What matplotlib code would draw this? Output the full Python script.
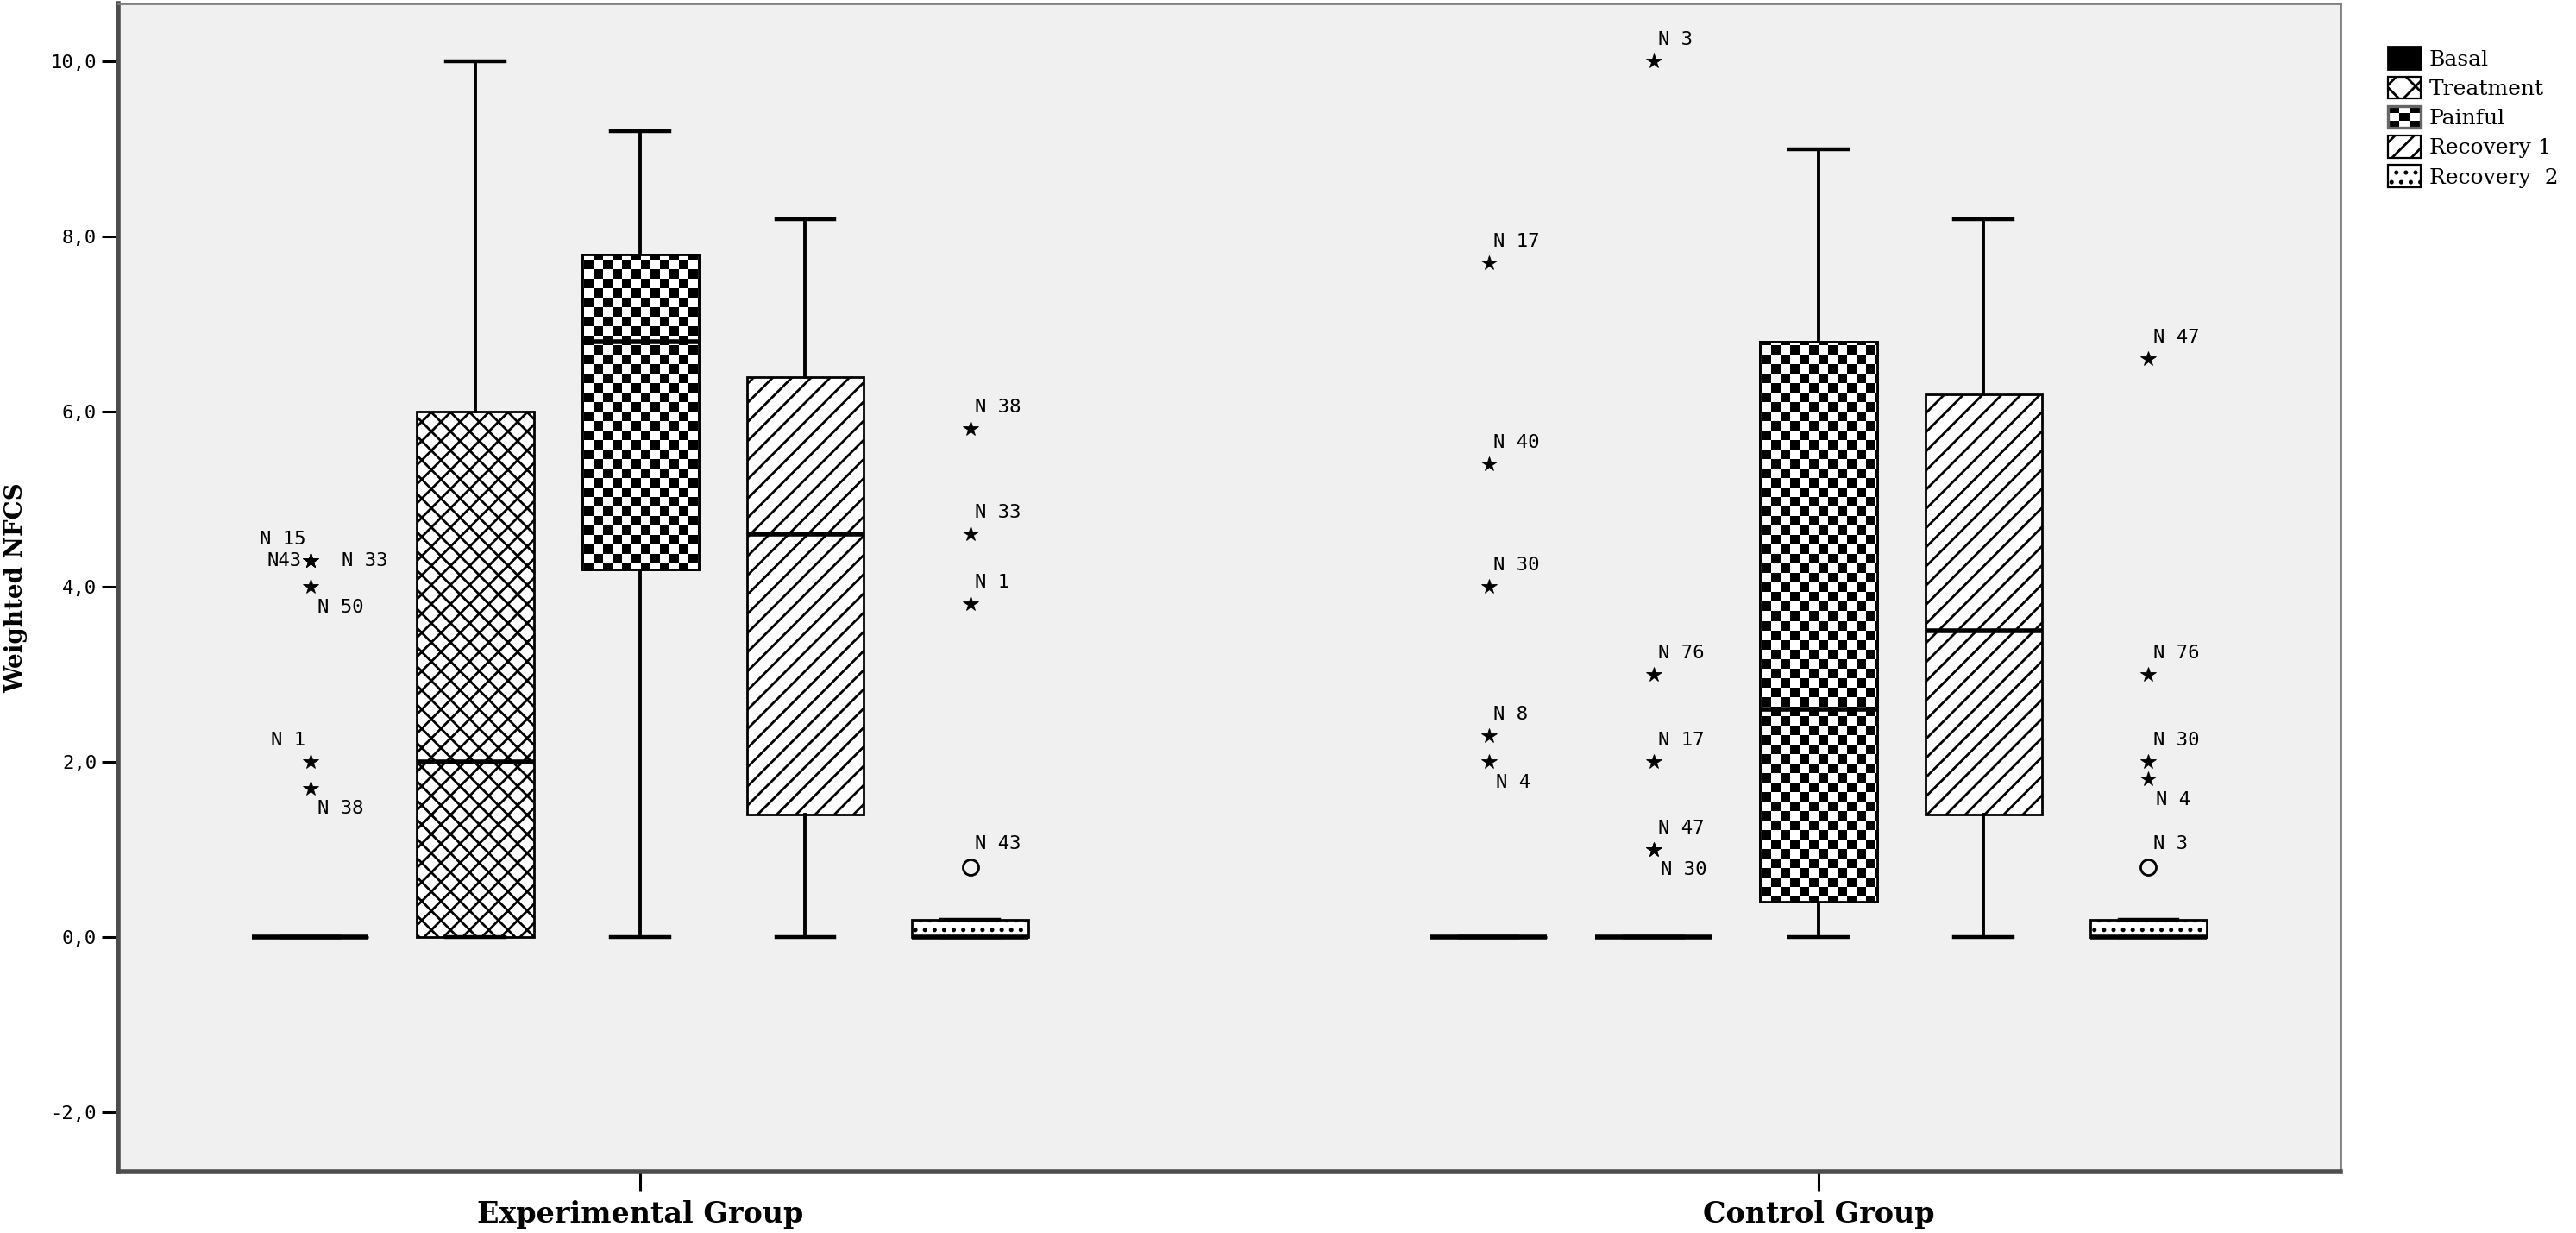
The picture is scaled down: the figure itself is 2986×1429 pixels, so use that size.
import numpy as np
import matplotlib
matplotlib.use("Agg")
import matplotlib.pyplot as plt
import matplotlib.ticker as tkr
from matplotlib.patches import Rectangle, PathPatch
from matplotlib.legend_handler import HandlerBase

groups = ["Experimental Group", "Control Group"]
conditions = ["Basal", "Treatment", "Painful", "Recovery 1", "Recovery  2"]

# box statistics per condition
exp_whislo = [0.0, 0.0, 0.0, 0.0, 0.0]
exp_q1 = [0.0, 0.0, 4.2, 1.4, 0.0]
exp_med = [0.0, 2.0, 6.8, 4.6, 0.0]
exp_q3 = [0.0, 6.0, 7.8, 6.4, 0.2]
exp_whishi = [0.0, 10.0, 9.2, 8.2, 0.2]

ctl_whislo = [0.0, 0.0, 0.0, 0.0, 0.0]
ctl_q1 = [0.0, 0.0, 0.4, 1.4, 0.0]
ctl_med = [0.0, 0.0, 2.6, 3.5, 0.0]
ctl_q3 = [0.0, 0.0, 6.8, 6.2, 0.2]
ctl_whishi = [0.0, 0.0, 9.0, 8.2, 0.2]

# extreme values (*)
exp_ext_cond = [0, 0, 0, 0, 0, 0, 4, 4, 4]
exp_ext_vals = [4.3, 4.3, 4.3, 4.0, 2.0, 1.7, 5.8, 4.6, 3.8]
exp_ext_ids = ["N 15", "N43", "N 33", "N 50", "N 1", "N 38", "N 38", "N 33", "N 1"]
exp_ext_side = ["ul", "l", "r", "dr", "ul", "dr", "ur", "ur", "ur"]

ctl_ext_cond = [0, 0, 0, 0, 0, 1, 1, 1, 1, 1, 4, 4, 4, 4]
ctl_ext_vals = [7.7, 5.4, 4.0, 2.3, 2.0, 10.0, 3.0, 2.0, 1.0, 1.0, 6.6, 3.0, 2.0, 1.8]
ctl_ext_ids = ["N 17", "N 40", "N 30", "N 8", "N 4", "N 3", "N 76", "N 17", "N 47", "N 30",
               "N 47", "N 76", "N 30", "N 4"]
ctl_ext_side = ["ur", "ur", "ur", "ur", "dr", "ur", "ur", "ur", "ur", "dr", "ur", "ur", "ur", "dr"]

# outliers (o)
exp_out_cond = [4]
exp_out_vals = [0.8]
exp_out_ids = ["N 43"]
ctl_out_cond = [4]
ctl_out_vals = [0.8]
ctl_out_ids = ["N 3"]

yticks = [-2, 0, 2, 4, 6, 8, 10]

offsets = {"ur": ((2, 9), "left"), "dr": ((3, -8.5), "left"), "ul": ((-2, 9), "right"),
           "l": ((-3.5, 0), "right"), "r": ((13, 0), "left")}
hatches = [None, "xxx", None, "///", "..."]
lab_font = "DejaVu Sans Mono"


class HandlerChecker(HandlerBase):
    def create_artists(self, legend, orig_handle, xdescent, ydescent, width, height, fontsize, trans):
        arts = []
        n = 3
        w, h = width / n, height / n
        for i in range(n):
            for j in range(n):
                c = "k" if (i + j) % 2 == 0 else "w"
                arts.append(Rectangle((-xdescent + i * w, -ydescent + j * h), w, h,
                                      facecolor=c, edgecolor="none", transform=trans))
        arts.append(Rectangle((-xdescent, -ydescent), width, height, facecolor="none",
                              edgecolor="#666666", lw=1.2, transform=trans))
        return arts


def main():
    plt.rcParams["hatch.linewidth"] = 1.0
    plt.rcParams["hatch.color"] = "black"

    fig = plt.figure(figsize=(14.93, 7.145), dpi=200)
    ax = fig.add_axes([0.0459, 0.0497, 0.8627, 0.9473])
    ax.set_facecolor("#f0f0f0")

    spacing = 0.14
    width = 0.099
    stats_all = [(exp_whislo, exp_q1, exp_med, exp_q3, exp_whishi),
                 (ctl_whislo, ctl_q1, ctl_med, ctl_q3, ctl_whishi)]
    stats, pos, conds = [], [], []
    for g, (wl, q1, md, q3, wh) in enumerate(stats_all):
        for i in range(len(conditions)):
            stats.append(dict(whislo=wl[i], q1=q1[i], med=md[i], q3=q3[i], whishi=wh[i], fliers=[]))
            pos.append(g + (i - 2) * spacing)
            conds.append(i)

    res = ax.bxp(stats, positions=pos, widths=width, patch_artist=True, showfliers=False,
                 boxprops=dict(edgecolor="k", linewidth=1.0),
                 whiskerprops=dict(color="k", linewidth=1.4),
                 capprops=dict(color="k", linewidth=1.6),
                 medianprops=dict(color="k", linewidth=2.0),
                 capwidths=width / 2)

    xlo, xhi, ylo, yhi = -0.443, 1.443, -2.68, 10.66
    nx, ny = 234, 123
    checker = (np.add.outer(np.arange(ny), np.arange(nx)) % 2).astype(float)

    for box, c in zip(res["boxes"], conds):
        if c == 0:
            box.set_facecolor("black")
        else:
            box.set_facecolor("white")
            if hatches[c]:
                box.set_hatch(hatches[c])
        if c == 2:
            im = ax.imshow(checker, extent=(xlo, xhi, ylo, yhi), cmap="gray", vmin=0, vmax=1,
                           interpolation="nearest", aspect="auto", zorder=2.02)
            im.set_clip_path(box)
            ax.add_patch(PathPatch(box.get_path(), facecolor="none", edgecolor="k",
                                   linewidth=1.0, zorder=2.05))

    # extremes and outliers
    for g, (ec, ev, ei, es, oc, ov, oi) in enumerate([
            (exp_ext_cond, exp_ext_vals, exp_ext_ids, exp_ext_side, exp_out_cond, exp_out_vals, exp_out_ids),
            (ctl_ext_cond, ctl_ext_vals, ctl_ext_ids, ctl_ext_side, ctl_out_cond, ctl_out_vals, ctl_out_ids)]):
        xs = [g + (c - 2) * spacing for c in ec]
        ax.plot(xs, ev, linestyle="none", marker="*", ms=6.5, color="k", mew=0.3, zorder=3)
        for x, v, lab, s in zip(xs, ev, ei, es):
            off, ha = offsets[s]
            ax.annotate(lab, (x, v), xytext=off, textcoords="offset points", ha=ha, va="center",
                        fontsize=8, family=lab_font)
        xo = [g + (c - 2) * spacing for c in oc]
        ax.plot(xo, ov, linestyle="none", marker="o", ms=6.5, mfc="none", mec="k", mew=1.0, zorder=3)
        for x, v, lab in zip(xo, ov, oi):
            ax.annotate(lab, (x, v), xytext=(2, 9.5), textcoords="offset points", ha="left",
                        va="center", fontsize=8, family=lab_font)

    ax.set_xlim(xlo, xhi)
    ax.set_ylim(ylo, yhi)
    ax.set_xticks([0, 1])
    ax.set_xticklabels(groups, fontsize=12, fontweight="bold", family="DejaVu Serif")
    ax.set_yticks(yticks)
    ax.yaxis.set_major_formatter(tkr.FuncFormatter(lambda v, p: ("%.1f" % v).replace(".", ",")))
    ax.tick_params(axis="y", length=7, width=1.1, labelsize=8, pad=2)
    ax.tick_params(axis="x", length=8, width=1.1, pad=4)
    for t in ax.get_yticklabels():
        t.set_family(lab_font)
    ax.set_ylabel("Weighted NFCS", fontsize=10, fontweight="bold", family="DejaVu Serif")
    ax.yaxis.set_label_coords(-0.0405, 0.5)

    for s in ["left", "bottom"]:
        ax.spines[s].set_linewidth(2.0)
        ax.spines[s].set_color("#4d4d4d")
    for s in ["top", "right"]:
        ax.spines[s].set_linewidth(1.0)
        ax.spines[s].set_color("#808080")

    handles = [Rectangle((0, 0), 1, 1, facecolor="black", edgecolor="black"),
               Rectangle((0, 0), 1, 1, facecolor="white", edgecolor="black", hatch="xx", lw=0.8),
               Rectangle((0, 0), 1, 1, facecolor="white", edgecolor="black"),
               Rectangle((0, 0), 1, 1, facecolor="white", edgecolor="black", hatch="///", lw=0.8),
               Rectangle((0, 0), 1, 1, facecolor="white", edgecolor="black", hatch="...", lw=0.8)]
    fig.legend(handles, conditions, loc="upper left", bbox_to_anchor=(0.927, 0.962),
               frameon=False, borderpad=0, borderaxespad=0, handlelength=1.5, handleheight=1.2,
               labelspacing=0.32, handletextpad=0.4,
               prop=dict(family="DejaVu Serif", size=9),
               handler_map={handles[2]: HandlerChecker()})

    plt.savefig("out.png", dpi=200)


if __name__ == "__main__":
    main()
